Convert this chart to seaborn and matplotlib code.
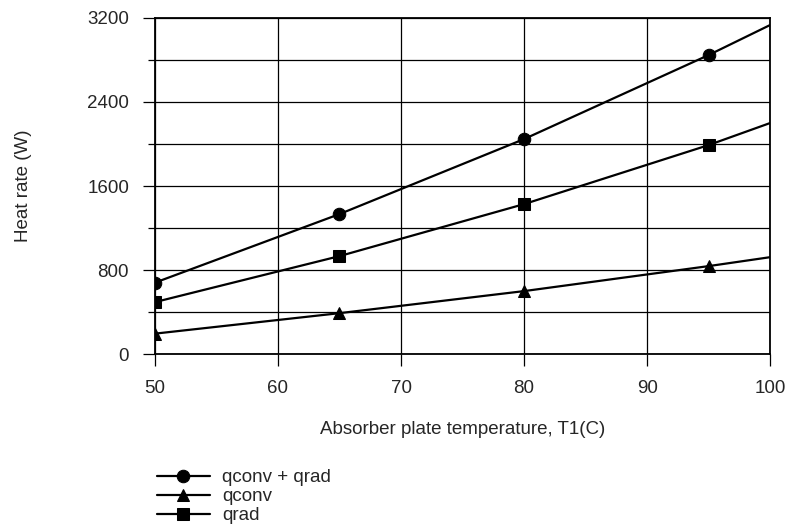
import seaborn as sns
import matplotlib
matplotlib.use('Agg')

import matplotlib.pyplot as plt
from matplotlib.ticker import MultipleLocator

# температура пластины и значения
temps = [50, 65, 80, 95, 100]
q_total = [680, 1333, 2047, 2847, 3133]
q_conv = [195, 390, 600, 838, 923]
q_rad = [495, 933, 1428, 1990, 2200]

series = [
    ("qconv + qrad", q_total, "o", 9),
    ("qconv", q_conv, "^", 9),
    ("qrad", q_rad, "s", 8.5),
]

sns.set_style("ticks")
plt.rcParams['font.family'] = ['Liberation Sans', 'DejaVu Sans']

fig = plt.figure(figsize=(7.9, 5.27), dpi=100)
ax = fig.add_axes([0.196, 0.328, 0.779, 0.638])

for label, values, marker, size in series:
    sns.lineplot(x=temps, y=values, ax=ax, color="black", linewidth=1.6,
                 marker=marker, markersize=size, markevery=[0, 1, 2, 3],
                 markeredgecolor="black", label=label)

# маркеры на левой границе обрезаются как в оригинале
for line in ax.lines:
    line.set_clip_path(ax.patch)

ax.set_xlim(50, 100)
ax.set_ylim(0, 3200)
ax.xaxis.set_major_locator(MultipleLocator(10))
ax.yaxis.set_major_locator(MultipleLocator(800))
ax.yaxis.set_minor_locator(MultipleLocator(400))
ax.grid(True, which="both", color="black", linewidth=0.9)
ax.set_axisbelow(True)

for spine in ax.spines.values():
    spine.set_visible(True)
    spine.set_color("black")
    spine.set_linewidth(1.3)

ax.tick_params(axis="y", which="major", length=8.6, width=0.9, pad=10, labelsize=13.5, color="black")
ax.tick_params(axis="y", which="minor", length=5, width=0.9, color="black")
ax.tick_params(axis="x", which="major", length=8.6, width=0.9, pad=10, labelsize=13.5, color="black")

ax.set_xlabel("Absorber plate temperature, T1(C)", fontsize=13.5)
ax.set_ylabel("Heat rate (W)", fontsize=13.5)
ax.xaxis.set_label_coords(0.5, -0.199)
ax.yaxis.set_label_coords(-0.2, 0.5)

handles, labels = ax.get_legend_handles_labels()
ax.get_legend().remove()
fig.legend(handles, labels, loc="upper left", bbox_to_anchor=(0.199, 0.11),
           frameon=False, fontsize=13.5, handlelength=2.8, handletextpad=0.65,
           labelspacing=0.1, borderaxespad=0, borderpad=0)

plt.savefig("out.png", dpi=100)
plt.close()
